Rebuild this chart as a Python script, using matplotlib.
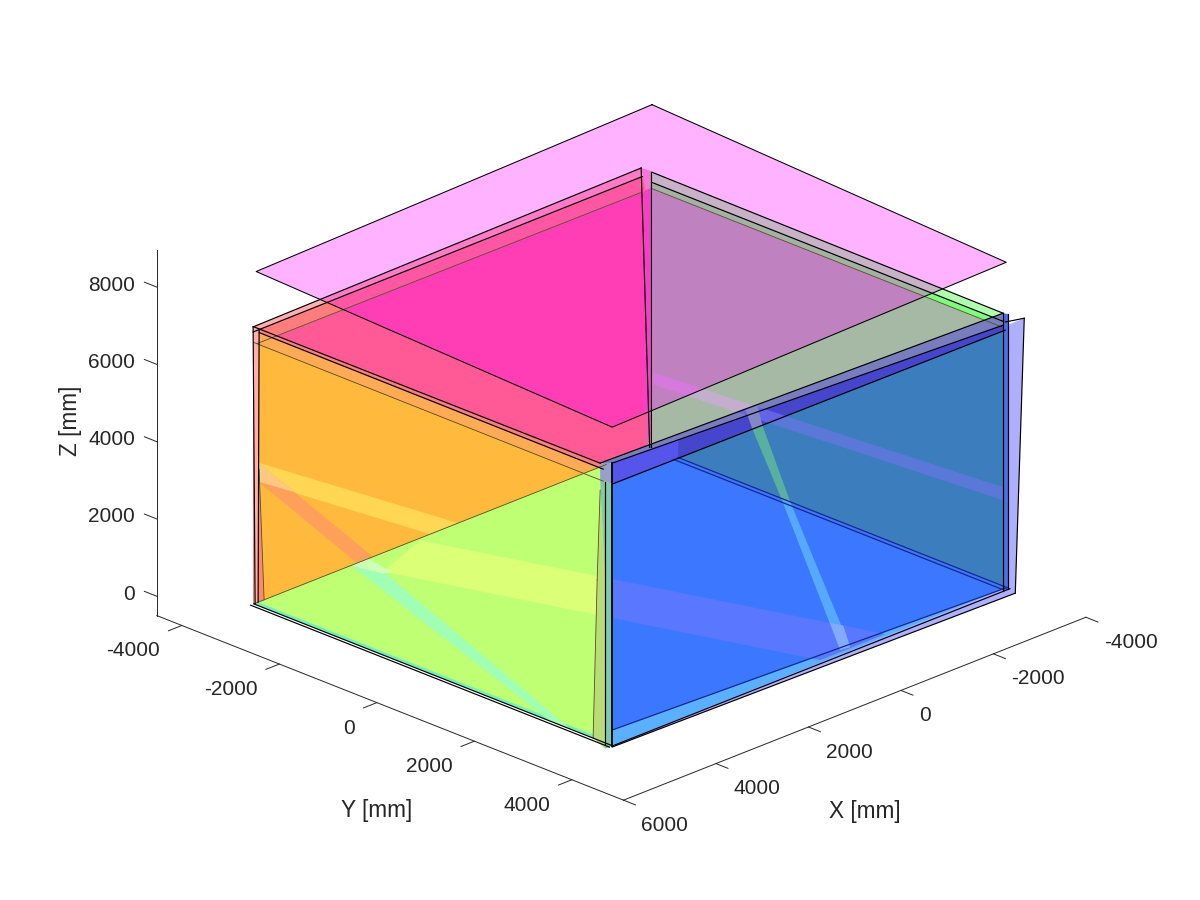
import matplotlib
matplotlib.use('Agg')
import matplotlib.pyplot as plt
from mpl_toolkits.mplot3d.art3d import Poly3DCollection

plt.rcParams['font.family'] = ['Liberation Sans', 'DejaVu Sans']

# room limits, mm
x0, x1 = -3430, 5160
y0, y1 = -3320, 4040

x_ticks = [-4000, -2000, 0, 2000, 4000, 6000]
y_ticks = [-4000, -2000, 0, 2000, 4000]
z_ticks = [0, 2000, 4000, 6000, 8000]
x_lim = (-4000, 6000)
y_lim = (-4513, 5058)
z_lim = (-500, 8970)

# tilted sheets
top_sheet = [(x0, -3300, 8863), (x1, -3272, 8625), (x1, 4030, 8242), (x0, 3965, 8410)]
side_sheet = [(-3361, 4400, 7212), (-3167, 4400, 189), (5550, 4400, 334), (5550, 4400, 7138)]

# back left wall (y = y0)
bl_low = [(5176, y0, 6700), (-3411, y0, 6690), (-3411, y0, 0), (5176, y0, 0)]
bl_mid = [(5176, y0, 7044), (-3411, y0, 7083), (-3411, y0, 6690), (5176, y0, 6700)]
bl_top = [(5176, y0, 7176), (-3216, y0, 7316), (-3216, y0, 7083), (5176, y0, 7044)]
corner_low = [(-3303, y0, 0), (-3430, y0, 0), (-3430, y0, 6700), (-3303, y0, 6700)]
corner_top = [(-3216, y0, 7316), (-3454, y0, 7114), (-3430, y0, 6700), (-3303, y0, 6700)]

# back right wall (x = x0)
br_low = [(x0, -3296, 0), (x0, 3903, 0), (x0, 3903, 6690), (x0, -3296, 6690)]
br_mid = [(x0, -3296, 6690), (x0, 3903, 6690), (x0, 3903, 6850), (x0, -3296, 6850)]
br_top = [(x0, -3296, 6850), (x0, 3903, 6850), (x0, 3903, 7060), (x0, -3296, 7114)]
stripe_c = [(x0, -3275, 1943), (x0, 3903, 2558), (x0, 3903, 2222), (x0, -3275, 1632)]
stripe_c_band = [(x0, -1203, 2119), (x0, -568, 2173), (x0, -916, 1821), (x0, -1572, 1780)]
stripe_c_wall = [(x0, -568, 2173), (x0, 3903, 2558), (x0, 3903, 2222), (x0, -916, 1821)]
stripe_d_band = [(x0, -1388, 1948), (x0, -1142, 2186), (x0, -1040, 1707), (x0, -1245, 1503)]
stripe_d_wall = [(x0, -1245, 1503), (x0, -1040, 1707), (x0, -465, 0), (x0, -650, 0)]

# front left wall (x = x1)
fl_low = [(x1, y0, 0), (x1, y1, 0), (x1, y1, 6755), (x1, y0, 6765)]
fl_mid = [(x1, y0, 6765), (x1, 3846, 6752), (x1, 3846, 7063), (x1, -3210, 7075)]
fl_top = [(x1, -3210, 7075), (x1, 3846, 7063), (x1, 3784, 7186), (x1, -3333, 7170)]

# stripes seen on the back left wall
stripe_a = [(5068, y0, 3614), (5068, y0, 3122), (1347, y0, 0), (742, y0, 0)]
stripe_b = [(5068, y0, 3614), (5068, y0, 3122), (2927, y0, 0), (2581, y0, 0)]
stripe_ab = [(5068, y0, 3614), (5068, y0, 3122), (4289, y0, 2481)]

# floor pieces (z = 0)
floor_left = [(x1, y0, 0), (x1, y1, 0), (-2460, y0, 0)]
floor_rim = [(x1, y0, 0), (x1, y1, 0), (x1 - 90, y1, 0), (x1 - 90, y0, 0)]
floor_a_left = [(1628, -3259, 0), (608, -288, 0), (1668, 718, 0), (2877, -2834, 0)]
floor_b = [(2688, y0, 0), (x1, 3180, 0), (x1, 2770, 0), (3056, y0, 0)]
floor_ab = [(2688, y0, 0), (2796, -2705, 0), (2943, -2793, 0), (3056, y0, 0)]
floor_right = [(-2005, -2766, 0), (-3429, -2764, 0), (-3430, 3980, 0), (4733, 3625, 0)]
floor_edge = [(4733, 3625, 0), (-3430, 3980, 0), (x1, y1, 0)]
floor_a_right = [(608, -288, 0), (-842, 3937, 0), (572, 3944, 0), (1668, 718, 0)]
floor_d = [(x0, -650, 0), (x0, -465, 0), (-108, 3915, 0), (82, 3890, 0)]
floor_ad = [(-549, 3086, 0), (-622, 3284, 0), (-108, 3915, 0), (82, 3890, 0)]

# front right wall (y = y1)
wall_right = [(x0, -2764, 0), (x0, 3980, 0), (x0, 3944, 6640)]
band_upper = [(5431, y1, 7445), (-3286, y1, 7199), (-3286, y1, 6889), (5172, y1, 7321)]
band_lower = [(5172, y1, 7321), (-3286, y1, 6889), (-3329, y1, 6739), (5172, y1, 6778)]
band_left = [(5172, y1, 7321), (3744, y1, 7248), (3744, y1, 6771), (5172, y1, 6778)]
band_end = [(5431, y1, 7445), (5172, y1, 7321), (5172, y1, 6778), (5431, y1, 7006)]
post_right = [(-3286, y1, 7199), (-3394, y1, 7122), (-3394, y1, 0), (-3286, y1, 0)]
strip_teal = [(5431, y1, 7006), (5172, y1, 6778), (5172, y1, 0), (5323, y1, 0), (5323, y1, 4367)]
strip_olive = [(5431, y1, 6747), (5323, y1, 4367), (5323, y1, 0), (5583, y1, 404), (5496, y1, 4450)]

# narrow strips at the left corner
left_pale = [(5176, y0, 7176), (5046, y0, 7044), (5068, y0, 0), (5133, y0, 0)]
left_salmon = [(5046, y0, 7044), (5068, y0, 0), (4938, y0, 0), (5046, y0, 3423)]

lines_black = [
    [(5176, y0, 7176), (-3216, y0, 7316)],
    [(5176, y0, 7044), (-3241, y0, 7083)],
    [(x0, -3296, 7114), (x0, 3903, 7060)],
    [(x0, -3296, 6850), (x0, 3903, 6850)],
    [(x1, -3333, 7170), (x1, 3784, 7186)],
    [(x1, -3210, 7075), (x1, 3846, 7063)],
    [(5431, y1, 7445), (-3286, y1, 7199)],
    [(5172, y1, 7321), (-3286, y1, 6889)],
    [(5172, y1, 6778), (-3329, y1, 6739)],
    [(-3216, y0, 7316), (-3400, y0, 0)],
    [(-3430, y0, 7114), (-3430, y0, 0)],
    [(5176, y0, 7176), (5133, y0, 0)],
    [(5046, y0, 7044), (5068, y0, 0)],
    [(5323, y1, 6900), (5323, y1, 100)],
    [(-3286, y1, 7199), (-3286, y1, 0)],
    [(-3394, y1, 7122), (-3394, y1, 0)],
    [(-3361, 4400, 7212), (-3167, 4400, 189)],
    [(-3361, 4400, 7212), (-3329, y1, 6950)],
    [(-3167, 4400, 189), (5550, 4400, 334)],
    [(x1, y0, 0), (x1, y1, 0)],
    [(x1 + 70, y0, 0), (x1 + 70, y1, 0)],
    [(x1, y1, 0), (x0, y1, 0)],
]
lines_thin = [
    [(5089, y0, 6703), (-3200, y0, 6685)],
    [(x1, y0, 6765), (x1, 3846, 6752)],
    [(x0, -3296, 6690), (x0, 3903, 6690)],
    [(5431, y1, 6747), (5496, y1, 4450)],
    [(5496, y1, 4450), (5583, y1, 404)],
    [(x1, y0, 0), (-2460, y0, 0)],
    [(4938, y0, 0), (5046, y0, 3423)],
]
lines_navy = [
    [(-3429, -2764, 0), (-3430, 3980, 0)],
    [(-3329, -2764, 0), (-3330, 3980, 0)],
    [(4733, 3625, 0), (-3430, 3980, 0)],
]
front_edge = [(5172, y1, 7321), (5172, y1, 0)]

fig = plt.figure(figsize=(12, 9), dpi=100)
ax = fig.add_axes([9.2 / 1200, 4.4 / 900, 1, 1], projection='3d', computed_zorder=False)
ax.set_proj_type('ortho')
ax.view_init(elev=23.3, azim=45)
ax.set_xlim(*x_lim)
ax.set_ylim(*y_lim)
ax.set_zlim(*z_lim)
ax.set_box_aspect((654, 660, 398.5), zoom=1.0904)
ax.set_axis_off()

order = [1]


def rgb(r, g, b):
    return (r / 255, g / 255, b / 255)


def surface(points, color, alpha=1.0):
    poly = Poly3DCollection([points], facecolors=[color + (alpha,)], edgecolors='none',
                            linewidths=0, zorder=order[0])
    order[0] += 1
    ax.add_collection3d(poly)


surface(side_sheet, rgb(175, 175, 255))

surface(bl_low, rgb(255, 90, 150))
surface(bl_mid, rgb(255, 125, 125))
surface(bl_top, rgb(255, 175, 175))
surface(br_low, rgb(165, 185, 165))
surface(br_mid, rgb(125, 255, 125))
surface(br_top, rgb(175, 255, 175))
surface(corner_low, rgb(235, 95, 175))
surface(corner_top, rgb(240, 170, 195))
surface(stripe_c, rgb(195, 175, 205))

surface(fl_low, rgb(255, 185, 60))
surface(fl_mid, rgb(255, 170, 85))
surface(fl_top, rgb(255, 125, 125))
surface(stripe_a, rgb(255, 215, 85))
surface(stripe_b, rgb(255, 160, 90))
surface(stripe_ab, rgb(255, 200, 130))

surface(floor_left, rgb(190, 255, 115))
surface(floor_rim, rgb(110, 240, 190))
surface(floor_a_left, rgb(220, 255, 120))
surface(floor_b, rgb(160, 255, 180))
surface(floor_ab, rgb(205, 255, 180))

surface(wall_right, rgb(60, 125, 190))
surface(floor_right, rgb(60, 120, 255))
surface(floor_edge, rgb(90, 175, 255))
surface(floor_a_right, rgb(90, 120, 255))
surface(floor_d, rgb(85, 170, 255))
surface(floor_ad, rgb(130, 170, 255))
surface(band_upper, rgb(120, 125, 190))
surface(band_lower, rgb(70, 70, 205))
surface(band_left, rgb(85, 85, 235))
surface(band_end, rgb(150, 160, 200))
surface(stripe_c_wall, rgb(90, 120, 215))
surface(stripe_c_band, rgb(100, 100, 230))
surface(stripe_d_wall, rgb(90, 175, 160))
surface(stripe_d_band, rgb(130, 135, 200))
surface(post_right, rgb(75, 110, 225))
surface(strip_olive, rgb(185, 220, 120))
surface(strip_teal, rgb(130, 200, 170))
surface(left_pale, rgb(255, 175, 175))
surface(left_salmon, rgb(255, 135, 110))

surface(top_sheet, (1.0, 0.0, 1.0), alpha=0.3)

z_line = order[0]
for seg in lines_thin:
    ax.plot(*zip(*seg), color=rgb(80, 80, 30), lw=0.6, zorder=z_line)
for seg in lines_navy:
    ax.plot(*zip(*seg), color=rgb(20, 40, 140), lw=0.9, zorder=z_line)
for seg in lines_black:
    ax.plot(*zip(*seg), color='black', lw=0.85, zorder=z_line)
ax.plot(*zip(*front_edge), color='black', lw=1.3, zorder=z_line)
ax.plot(*zip(*(top_sheet + top_sheet[:1])), color='black', lw=0.75, zorder=z_line)

# axes are drawn by hand, the matlab style box has only three edges
axis_color = rgb(38, 38, 38)
axis_style = dict(color=axis_color, lw=0.7, zorder=z_line, clip_on=False)
label_style = dict(fontsize=15, color=axis_color, va='center')
ax.plot(*zip((6000, y_lim[0], z_lim[0]), (6000, y_lim[0], z_lim[1])), **axis_style)
ax.plot(*zip((6000, y_lim[0], z_lim[0]), (6000, y_lim[1], z_lim[0])), **axis_style)
ax.plot(*zip((x_lim[0], y_lim[1], z_lim[0]), (6000, y_lim[1], z_lim[0])), **axis_style)

for z in z_ticks:
    ax.plot(*zip((6000, y_lim[0], z), (6000, y_lim[0] - 255, z)), **axis_style)
    ax.text(6000, y_lim[0] - 445, z - 170, str(z), ha='right', **label_style)
for y in y_ticks:
    ax.plot(*zip((6000, y, z_lim[0]), (6290, y, z_lim[0])), **axis_style)
    ax.text(6935, y + 436, z_lim[0], str(y), ha='right', **label_style)
for x in x_ticks:
    ax.plot(*zip((x, y_lim[1], z_lim[0]), (x, y_lim[1] + 246, z_lim[0])), **axis_style)
    ax.text(x + 491, y_lim[1] + 835, z_lim[0], str(x), ha='left', **label_style)

ax.text(8969, 2802, z_lim[0], 'Y [mm]', ha='center', va='center', fontsize=16.3, color=axis_color)
ax.text(3693, 7829, z_lim[0], 'X [mm]', ha='center', va='center', fontsize=16.3, color=axis_color)
ax.text(6000, -6276, 3671, 'Z [mm]', zdir='z', ha='center', va='center', fontsize=16.3, color=axis_color)

plt.savefig('out.png', dpi=100)
